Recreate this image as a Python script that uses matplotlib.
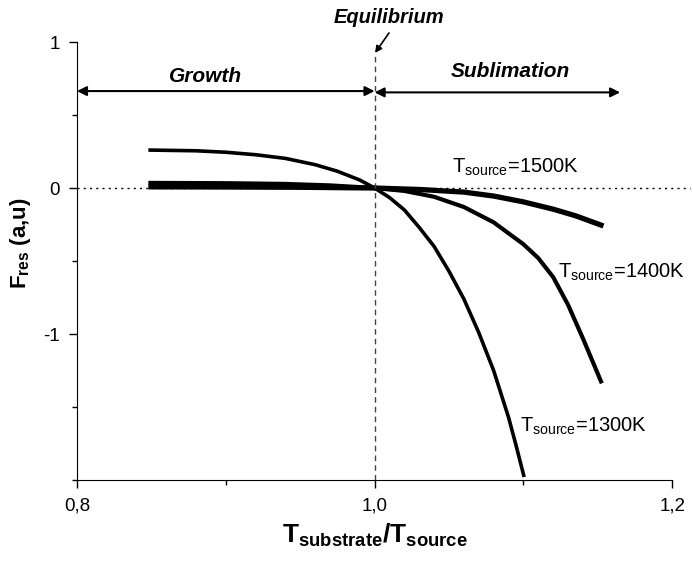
import matplotlib.pyplot as plt
from matplotlib.ticker import MultipleLocator, FixedFormatter, FixedLocator

plt.rcParams['font.family'] = ['Liberation Sans', 'DejaVu Sans']
plt.rcParams['mathtext.fontset'] = 'custom'
plt.rcParams['mathtext.rm'] = 'Liberation Sans'
plt.rcParams['mathtext.bf'] = 'Liberation Sans:bold'
plt.rcParams['mathtext.it'] = 'Liberation Sans:italic'

# data
x_1300 = [0.848, 0.88, 0.90, 0.92, 0.94, 0.96, 0.975, 0.99, 1.00, 1.01, 1.02, 1.03, 1.04,
          1.05, 1.06, 1.07, 1.08, 1.09, 1.095, 1.1005]
y_1300 = [0.26, 0.255, 0.245, 0.228, 0.203, 0.16, 0.115, 0.055, 0.0, -0.065, -0.15, -0.27, -0.40,
          -0.57, -0.76, -0.99, -1.25, -1.57, -1.76, -1.98]

x_1400 = [0.848, 0.90, 0.94, 0.97, 1.00, 1.02, 1.04, 1.06, 1.08, 1.09, 1.10, 1.11, 1.12,
          1.13, 1.14, 1.1527]
y_1400 = [0.035, 0.033, 0.028, 0.018, 0.0, -0.02, -0.06, -0.13, -0.235, -0.31, -0.385, -0.48,
          -0.61, -0.80, -1.03, -1.338]

x_1500 = [0.848, 0.90, 0.95, 1.00, 1.03, 1.06, 1.08, 1.10, 1.12, 1.135, 1.1538]
y_1500 = [0.008, 0.007, 0.005, 0.0, -0.01, -0.028, -0.055, -0.095, -0.145, -0.19, -0.26]

curve_labels = ['T$_{\\mathrm{source}}$=1300K', 'T$_{\\mathrm{source}}$=1400K', 'T$_{\\mathrm{source}}$=1500K']
label_pos = [(1.0978, -1.67), (1.1234, -0.616), (1.0521, 0.103)]

xticks = [0.8, 1.0, 1.2]
xticklabels = ['0,8', '1,0', '1,2']
yticks = [-1, 0, 1]
yticklabels = ['-1', '0', '1']

fig = plt.figure(figsize=(6.93, 5.61), dpi=100)
ax = fig.add_axes([0.111, 0.1444, 0.859, 0.7807])

ax.plot(x_1300, y_1300, color='black', lw=2.6, solid_capstyle='butt', solid_joinstyle='round')
ax.plot(x_1400, y_1400, color='black', lw=3.0, solid_capstyle='butt', solid_joinstyle='round')
ax.plot(x_1500, y_1500, color='black', lw=3.8, solid_capstyle='butt', solid_joinstyle='round')

for txt, (lx, ly) in zip(curve_labels, label_pos):
    ax.text(lx, ly, txt, fontsize=14.5, ha='left', va='baseline')

# reference lines
ax.plot([0.8, 1.212], [0, 0], color='black', lw=1, ls=(0, (1.5, 3)), clip_on=False)
ax.plot([1.0, 1.0], [-2, 0.91], color='#444444', lw=1, ls=(0, (4, 3)), clip_on=False)

# growth / sublimation arrows
ax.annotate('', xy=(0.8, 0.664), xytext=(1.0, 0.664),
            arrowprops=dict(arrowstyle='<|-|>', color='black', lw=1.5,
                            mutation_scale=14, shrinkA=0, shrinkB=0))
ax.annotate('', xy=(1.0, 0.655), xytext=(1.165, 0.655),
            arrowprops=dict(arrowstyle='<|-|>', color='black', lw=1.5,
                            mutation_scale=14, shrinkA=0, shrinkB=0))
ax.text(0.8867, 0.767, 'Growth', fontsize=15, fontweight='bold', style='italic', ha='center', va='center')
ax.text(1.091, 0.80, 'Sublimation', fontsize=15, fontweight='bold', style='italic', ha='center', va='center')
ax.text(1.01, 1.17, 'Equilibrium', fontsize=14.5, fontweight='bold', style='italic', ha='center', va='center',
        clip_on=False)
ax.annotate('', xy=(1.0003, 0.925), xytext=(1.0097, 1.062), annotation_clip=False,
            arrowprops=dict(arrowstyle='-|>', color='black', lw=1.2, mutation_scale=10,
                            shrinkA=0, shrinkB=0))

ax.set_xlim(0.8, 1.2)
ax.set_ylim(-2, 1)
ax.xaxis.set_major_locator(FixedLocator(xticks))
ax.xaxis.set_major_formatter(FixedFormatter(xticklabels))
ax.xaxis.set_minor_locator(MultipleLocator(0.1))
ax.yaxis.set_major_locator(FixedLocator(yticks))
ax.yaxis.set_major_formatter(FixedFormatter(yticklabels))
ax.yaxis.set_minor_locator(FixedLocator([-2, -1.5, -0.5, 0.5]))
ax.tick_params(which='major', direction='out', length=6, width=1, labelsize=13.5, pad=6.5)
ax.tick_params(which='minor', direction='out', length=3.5, width=1)

ax.spines['top'].set_visible(False)
ax.spines['right'].set_visible(False)

ax.set_xlabel('$\\mathbf{T_{substrate}/T_{source}}$', fontsize=19)
ax.xaxis.set_label_coords(0.5, -0.095)
ax.set_ylabel('$\\mathbf{F_{res}}$ (a,u)', fontsize=16, fontweight='bold')
ax.yaxis.set_label_coords(-0.074, 0.54)

fig.savefig('out.png', dpi=100)
